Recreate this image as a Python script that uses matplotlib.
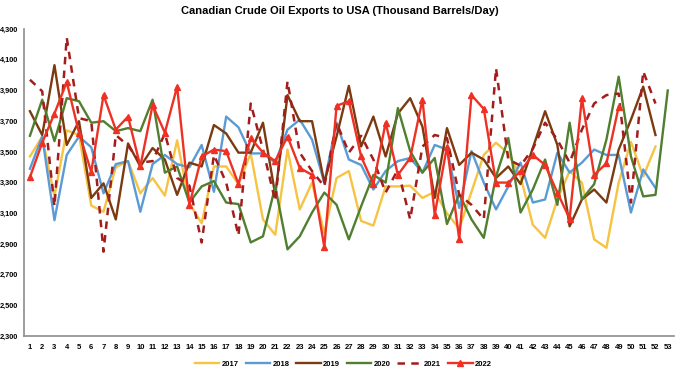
import numpy as np
import matplotlib
matplotlib.use('Agg')
import matplotlib.pyplot as plt

plt.rcParams['font.family'] = ['Liberation Sans', 'DejaVu Sans']

# weekly exports, thousand barrels/day
y2017 = [3470, 3600, 3210, 3640, 3610, 3150, 3110, 3400, 3440, 3230,
         3330, 3215, 3575, 3165, 3035, 3405, 3405, 3290, 3490, 3060,
         2960, 3515, 3125, 3300, 2970, 3330, 3375, 3050, 3020, 3275,
         3275, 3280, 3200, 3240, 3100, 3000, 3240, 3480, 3560, 3490,
         3340, 3025, 2940, 3190, 3375, 3300, 2930, 2875, 3300, 3565,
         3340, 3535]
y2018 = [3390, 3600, 3055, 3480, 3600, 3530, 3230, 3420, 3440, 3110,
         3420, 3480, 3420, 3400, 3545, 3240, 3730, 3660, 3490, 3490,
         3430, 3645, 3710, 3580, 3300, 3690, 3450, 3415, 3255, 3375,
         3440, 3460, 3365, 3545, 3515, 3135, 3505, 3300, 3125, 3275,
         3430, 3170, 3190, 3495, 3365, 3430, 3515, 3480, 3480, 3105,
         3385, 3265]
y2019 = [3765, 3610, 4065, 3545, 3700, 3200, 3295, 3060, 3555, 3405,
         3525, 3450, 3220, 3430, 3405, 3675, 3620, 3495, 3495, 3690,
         3220, 3870, 3700, 3700, 3300, 3600, 3930, 3535, 3730, 3470,
         3750, 3850, 3665, 3200, 3655, 3415, 3495, 3450, 3330, 3405,
         3290, 3525, 3765, 3545, 3015, 3190, 3255, 3170, 3515, 3710,
         3925, 3610]
y2020 = [3605, 3840, 3570, 3850, 3830, 3690, 3700, 3635, 3655, 3635,
         3840, 3365, 3405, 3170, 3275, 3310, 3170, 3160, 2910, 2950,
         3275, 2865, 2950, 3105, 3235, 3155, 2930, 3145, 3350, 3300,
         3785, 3505, 3365, 3460, 3030, 3225, 3060, 2940, 3340, 3590,
         3105, 3255, 3450, 3155, 3690, 3190, 3290, 3580, 3990, 3470,
         3210, 3220, 3900]
y2021 = [3970, 3895, 3145, 4245, 3720, 3700, 2850, 3610, 3540, 3430,
         3440, 3620, 3330, 3280, 2910, 3480, 3300, 2955, 3815, 3515,
         3180, 3960, 3495, 3375, 3275, 3690, 3495, 3605, 3450, 3235,
         3385, 3060, 3535, 3610, 3590, 3220, 3155, 3060, 4045, 3450,
         3410, 3520, 3690, 3580, 3430, 3645, 3815, 3870, 3880, 3170,
         4025, 3815]
y2022 = [3335, 3560, 3750, 3955, 3625, 3370, 3870, 3645, 3730, 3405,
         3805, 3625, 3925, 3155, 3470, 3515, 3505, 3290, 3590, 3495,
         3440, 3600, 3395, 3350, 2880, 3800, 3830, 3470, 3290, 3690,
         3350, 3460, 3840, 3090, 3535, 2930, 3870, 3780, 3300, 3300,
         3375, 3480, 3415, 3235, 3065, 3850, 3350, 3425, 3795]

weeks = np.arange(1, 54)
yticks = np.arange(2300, 4301, 200)

fig = plt.figure(figsize=(6.8, 3.73), dpi=100)
ax = fig.add_axes([0.035, 0.099, 0.956, 0.823])

ax.plot(weeks[:len(y2017)], y2017, color='#F6C342', lw=1.7, label='2017')
ax.plot(weeks[:len(y2018)], y2018, color='#5B9BD5', lw=1.7, label='2018')
ax.plot(weeks[:len(y2019)], y2019, color='#7B3A10', lw=1.7, label='2019')
ax.plot(weeks[:len(y2020)], y2020, color='#4F7F2F', lw=1.7, label='2020')
ax.plot(weeks[:len(y2021)], y2021, color='#A31D1D', lw=1.8, ls=(0, (3, 2.5)), label='2021')
ax.plot(weeks[:len(y2022)], y2022, color='#EE3124', lw=1.7, marker='^',
        markersize=4.5, label='2022')

ax.set_xlim(0.5, 53.5)
ax.set_ylim(2300, 4300)
ax.set_xticks(weeks)
ax.set_xticklabels([str(w) for w in weeks], fontsize=5.5, fontweight='bold')
ax.set_yticks(yticks)
ax.set_yticklabels(['{:,}'.format(v) for v in yticks], fontsize=5.3, fontweight='bold')
ax.tick_params(length=0, pad=6)
ax.tick_params(axis='y', pad=4)
for s in ['top', 'right']:
    ax.spines[s].set_visible(False)
for s in ['left', 'bottom']:
    ax.spines[s].set_color('#8C8C8C')
    ax.spines[s].set_linewidth(1.2)

fig.suptitle('Canadian Crude Oil Exports to USA (Thousand Barrels/Day)',
             fontsize=8, fontweight='bold', y=0.985)

leg = fig.legend(loc='lower center', ncol=6, frameon=False, fontsize=5.5,
                 bbox_to_anchor=(0.505, -0.005), handlelength=3.2,
                 columnspacing=0.9, handletextpad=0.3)
for t in leg.get_texts():
    t.set_fontweight('bold')

fig.savefig('out.png', dpi=100)
